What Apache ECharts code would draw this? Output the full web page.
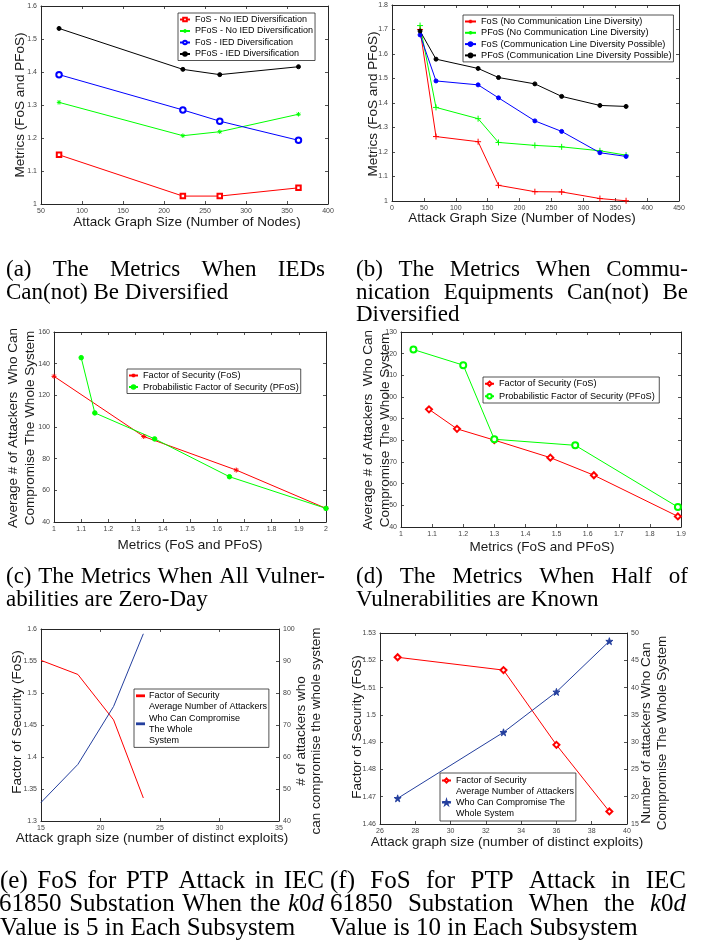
<!DOCTYPE html>
<html><head><meta charset="utf-8">
<script src="https://cdn.jsdelivr.net/npm/echarts@6/dist/echarts.min.js"></script>
<style>html,body{margin:0;padding:0;background:#fff}#c{width:704px;height:944px}</style>
</head><body><div id="c"></div><script>
// ---------- DATA ----------
// (a) IED diversification
const aNodes      = [72, 223, 268, 364];
const aFoSNoIED   = [1.149, 1.024, 1.024, 1.049];
const aPFoSNoIED  = [1.308, 1.207, 1.219, 1.272];
const aFoSIED     = [1.392, 1.285, 1.251, 1.193];
const aPFoSIED    = [1.532, 1.408, 1.392, 1.416];
// (b) communication line diversity
const bNodes      = [44, 69, 135, 167, 224, 266, 326, 367];
const bFoSNo      = [1.700, 1.263, 1.242, 1.064, 1.038, 1.037, 1.010, 1.001];
const bPFoSNo     = [1.716, 1.382, 1.336, 1.239, 1.227, 1.221, 1.205, 1.187];
const bFoSPos     = [1.678, 1.490, 1.474, 1.421, 1.327, 1.284, 1.197, 1.182];
const bPFoSPos    = [1.694, 1.579, 1.541, 1.504, 1.478, 1.427, 1.390, 1.386];
// (c) all zero-day
const cFoSMetric  = [1.0, 1.33, 1.67, 2.0];
const cFoSAtt     = [132, 94, 72.8, 48.6];
const cPFoSMetric = [1.1, 1.15, 1.37, 1.645, 2.0];
const cPFoSAtt    = [143.8, 108.9, 92.5, 68.6, 48.6];
// (d) half known
const dFoSMetric  = [1.09, 1.18, 1.30, 1.48, 1.62, 1.89];
const dFoSAtt     = [94.3, 85.3, 80.1, 72.0, 63.9, 44.9];
const dPFoSMetric = [1.04, 1.20, 1.30, 1.56, 1.89];
const dPFoSAtt    = [121.9, 114.7, 80.5, 77.7, 49.2];
// (e) k0d = 5
const eExploits   = [15, 18.1, 21.1, 23.6];
const eFoS        = [1.551, 1.529, 1.458, 1.336];
const eAttackers  = [45.8, 57.7, 75.8, 98.5];
// (f) k0d = 10
const fExploits   = [27, 33, 36, 39];
const fFoS        = [1.5211, 1.5164, 1.4890, 1.4646];
const fAttackers  = [19.7, 31.8, 39.2, 48.5];

// ---------- STYLE ----------
const SANS = '"Liberation Sans", Arial, sans-serif';
const SERIF = '"Liberation Serif", "Times New Roman", serif';
const AX = '#262626';
const RED = '#ff0000', GREEN = '#00ff00', BLUE = '#0000ff', BLACK = '#000000', NAVY = '#243f9e';
const PLUS = 'path://M0,5L10,5M5,0L5,10';
const AST = 'path://M0,5L10,5M5,0L5,10M1.5,1.5L8.5,8.5M8.5,1.5L1.5,8.5';
const STAR = 'path://M50,0L61,35L98,35L68,57L79,91L50,70L21,91L32,57L2,35L39,35Z';

const zip = (xs, ys) => xs.map((x, i) => [x, ys[i]]);

const grids = [
  {left: 41, top: 6, width: 287, height: 198},
  {left: 392, top: 5, width: 287, height: 196},
  {left: 54, top: 332, width: 272, height: 190},
  {left: 401, top: 332, width: 280, height: 195},
  {left: 41, top: 629, width: 238, height: 192},
  {left: 380, top: 633, width: 247, height: 191}
];
const ranges = [
  {x: [50, 400, 50], y: [1, 1.6, 0.1]},
  {x: [0, 450, 50], y: [1, 1.8, 0.1]},
  {x: [1, 2, 0.1], y: [40, 160, 20]},
  {x: [1, 1.9, 0.1], y: [40, 130, 10]},
  {x: [15, 35, 5], y: [1.3, 1.6, 0.05], y2: [40, 100, 10]},
  {x: [26, 40, 2], y: [1.46, 1.53, 0.01], y2: [15, 50, 5]}
];

const xAxis = [], yAxis = [];
const tickLabel = {fontSize: 7, color: '#444', fontFamily: SANS, margin: 4};
function ax(gi, r, position, showLabel) {
  return {
    gridIndex: gi, type: 'value', min: r[0], max: r[1], interval: r[2], position,
    axisLine: {show: true, onZero: false, lineStyle: {color: AX, width: 1}},
    axisTick: {show: true, inside: true, length: 3, lineStyle: {color: AX, width: 0.8}},
    axisLabel: Object.assign({show: showLabel}, tickLabel),
    splitLine: {show: false}
  };
}
ranges.forEach((r, gi) => {
  xAxis.push(ax(gi, r.x, 'bottom', true));
  xAxis.push(ax(gi, r.x, 'top', false));
  yAxis.push(ax(gi, r.y, 'left', true));
  yAxis.push(ax(gi, r.y2 || r.y, 'right', !!r.y2));
});

function line(gi, name, xs, ys, color, symbol, size, right) {
  return {
    type: 'line', name, xAxisIndex: 2 * gi, yAxisIndex: 2 * gi + (right ? 1 : 0),
    data: zip(xs, ys), color, symbol, symbolSize: size, showSymbol: symbol !== 'none',
    lineStyle: {color, width: 1}, itemStyle: {color, borderColor: color, borderWidth: 1},
    emphasis: {disabled: true}, animation: false
  };
}

const N = {
  a1: 'FoS - No IED Diversification', a2: 'PFoS - No IED Diversification',
  a3: 'FoS - IED Diversification', a4: 'PFoS - IED Diversification',
  b1: 'FoS (No Communication Line Diversity)', b2: 'PFoS (No Communication Line Diversity)',
  b3: 'FoS (Communication Line Diversity Possible)', b4: 'PFoS (Communication Line Diversity Possible)',
  c1: 'Factor of Security (FoS)', c2: 'Probabilistic Factor of Security (PFoS)',
  d1: 'Factor of Security (FoS) ', d2: 'Probabilistic Factor of Security (PFoS) ',
  e1: 'Factor of Security', e2: 'Average Number of Attackers\nWho Can Compromise\nThe Whole\nSystem',
  f1: 'Factor of Security ', f2: 'Average Number of Attackers\nWho Can Compromise The\nWhole System'
};

const series = [
  line(0, N.a1, aNodes, aFoSNoIED, RED, 'emptyRect', 4.5),
  line(0, N.a2, aNodes, aPFoSNoIED, GREEN, AST, 4.5),
  line(0, N.a3, aNodes, aFoSIED, BLUE, 'emptyCircle', 5.5),
  line(0, N.a4, aNodes, aPFoSIED, BLACK, 'circle', 4),
  line(1, N.b1, bNodes, bFoSNo, RED, PLUS, 6),
  line(1, N.b2, bNodes, bPFoSNo, GREEN, PLUS, 6),
  line(1, N.b3, bNodes, bFoSPos, BLUE, 'circle', 4),
  line(1, N.b4, bNodes, bPFoSPos, BLACK, 'circle', 4),
  line(2, N.c1, cFoSMetric, cFoSAtt, RED, AST, 5),
  line(2, N.c2, cPFoSMetric, cPFoSAtt, GREEN, 'circle', 4.5),
  line(3, N.d1, dFoSMetric, dFoSAtt, RED, 'emptyDiamond', 6),
  line(3, N.d2, dPFoSMetric, dPFoSAtt, GREEN, 'emptyCircle', 6),
  line(4, N.e1, eExploits, eFoS, RED, 'none', 0),
  line(4, N.e2, eExploits, eAttackers, NAVY, 'none', 0, true),
  line(5, N.f1, fExploits, fFoS, RED, 'emptyDiamond', 6),
  line(5, N.f2, fExploits, fAttackers, NAVY, STAR, 7, true)
];

function lg(names, left, top, o) {
  return Object.assign({
    data: names, orient: 'vertical', left, top, itemWidth: 10, itemHeight: 4.5, itemGap: 0.5,
    padding: [1, 2, 1, 1], borderColor: AX, borderWidth: 0.8, backgroundColor: '#fff',
    selectedMode: false, inactiveColor: '#000',
    textStyle: {fontSize: o.fs, fontFamily: SANS, color: '#000', lineHeight: o.lh}
  }, o.extra || {});
}
const legend = [
  lg([N.a1, N.a2, N.a3, N.a4], 178, 13, {fs: 9, lh: 11}),
  lg([N.b1, N.b2, N.b3, N.b4], 463, 15, {fs: 9.2, lh: 11, extra: {itemWidth: 11, itemGap: 0.3}}),
  lg([N.c1, N.c2], 127, 369, {fs: 9.2, lh: 11, extra: {itemWidth: 9, padding: [1, 2, 1, 1]}}),
  lg([N.d1, N.d2], 483, 377, {fs: 9.2, lh: 11.5, extra: {itemWidth: 9, itemHeight: 5.5, itemGap: 1}}),
  lg([N.e1, N.e2], 134, 689, {fs: 9, lh: 11.2, extra: {icon: 'rect', itemWidth: 7, itemHeight: 0.8, itemGap: 0, padding: [1.2, 2, 1.2, 2]}}),
  lg([N.f1, N.f2], 440, 773, {fs: 9, lh: 11, extra: {itemWidth: 9, itemHeight: 5, itemGap: 0, padding: [2, 2, 2, 1]}})
];

// ---------- TEXT (axis titles + captions) ----------
const graphic = [];
function title(x, y, text, rot, lh) {
  graphic.push({type: 'text', x, y, rotation: rot ? Math.PI / 2 : 0, silent: true,
    style: {text, align: 'center', verticalAlign: 'middle', fontSize: 13.5, fontFamily: SANS,
      fill: '#1a1a1a', lineHeight: lh || 16}});
}
title(20, 105, 'Metrics (FoS and PFoS)', true);
title(187, 222, 'Attack Graph Size (Number of Nodes)');
title(373, 104, 'Metrics (FoS and PFoS)', true);
title(522, 218, 'Attack Graph Size (Number of Nodes)');
title(21.5, 428, 'Average # of Attackers  Who Can\nCompromise The Whole System', true, 17);
title(190, 545, 'Metrics (FoS and PFoS)');
title(376.5, 430, 'Average # of Attackers  Who Can\nCompromise The Whole System', true, 17);
title(542, 547, 'Metrics (FoS and PFoS)');
title(17, 722, 'Factor of Security (FoS)', true);
title(309, 731, '# of attackers who\ncan compromise the whole system', true, 14.5);
title(152, 838, 'Attack graph size (number of distinct exploits)');
title(357, 727, 'Factor of Security (FoS)', true);
title(654, 733, 'Number of attackers Who Can\nCompromise The Whole System', true, 16);
title(507, 842, 'Attack graph size (number of distinct exploits)');

const mctx = document.createElement('canvas').getContext('2d');
function segs(word) {
  const out = []; const re = /\{i\|([^}]*)\}|([^{]+)/g; let m;
  while ((m = re.exec(word))) out.push(m[1] !== undefined ? {t: m[1], it: true} : {t: m[2], it: false});
  return out;
}
function wWidth(word, fs) {
  return segs(word).reduce((s, g) => {
    mctx.font = (g.it ? 'italic ' : '') + fs + 'px ' + SERIF;
    return s + mctx.measureText(g.t).width;
  }, 0);
}
function caption(fs, text, x0, y, x1) {
  const words = text.split(' ');
  const ws = words.map(w => wWidth(w, fs));
  mctx.font = fs + 'px ' + SERIF;
  const tot = ws.reduce((a, b) => a + b, 0);
  const sp = x1 !== undefined ? (x1 - x0 - tot) / (words.length - 1) : mctx.measureText(' ').width;
  let x = x0;
  words.forEach((w, i) => {
    graphic.push({type: 'text', x, y, silent: true,
      style: {text: w, align: 'left', verticalAlign: 'middle', fontSize: fs, fontFamily: SERIF, fill: '#000',
        rich: {i: {fontStyle: 'italic', fontSize: fs, fontFamily: SERIF, fill: '#000'}}}});
    x += ws[i] + sp;
  });
}
const C1 = 23, C2 = 25;
caption(C1, '(a) The Metrics When IEDs', 6, 270, 325);
caption(C1, 'Can(not) Be Diversified', 6, 293);
caption(C1, '(b) The Metrics When Commu-', 356, 270, 688);
caption(C1, 'nication Equipments Can(not) Be', 356, 293, 688);
caption(C1, 'Diversified', 356, 315);
caption(C1, '(c) The Metrics When All Vulner-', 6, 577, 325);
caption(C1, 'abilities are Zero-Day', 6, 600);
caption(C1, '(d) The Metrics When Half of', 356, 577, 688);
caption(C1, 'Vulnerabilities are Known', 356, 600);
caption(C2, '(e) FoS for PTP Attack in IEC', 0, 881, 324);
caption(C2, '61850 Substation When the {i|k}0{i|d}', -1, 904, 324);
caption(C2, 'Value is 5 in Each Subsystem', 0, 928);
caption(C2, '(f) FoS for PTP Attack in IEC', 330, 881, 686);
caption(C2, '61850 Substation When the {i|k}0{i|d}', 330, 904, 686);
caption(C2, 'Value is 10 in Each Subsystem', 330, 928);

const chart = echarts.init(document.getElementById('c'), null, {renderer: 'canvas'});
chart.setOption({
  animation: false,
  backgroundColor: '#fff',
  grid: grids.map(g => Object.assign({show: false, containLabel: false}, g)),
  xAxis, yAxis, legend, series, graphic
});
</script></body></html>
